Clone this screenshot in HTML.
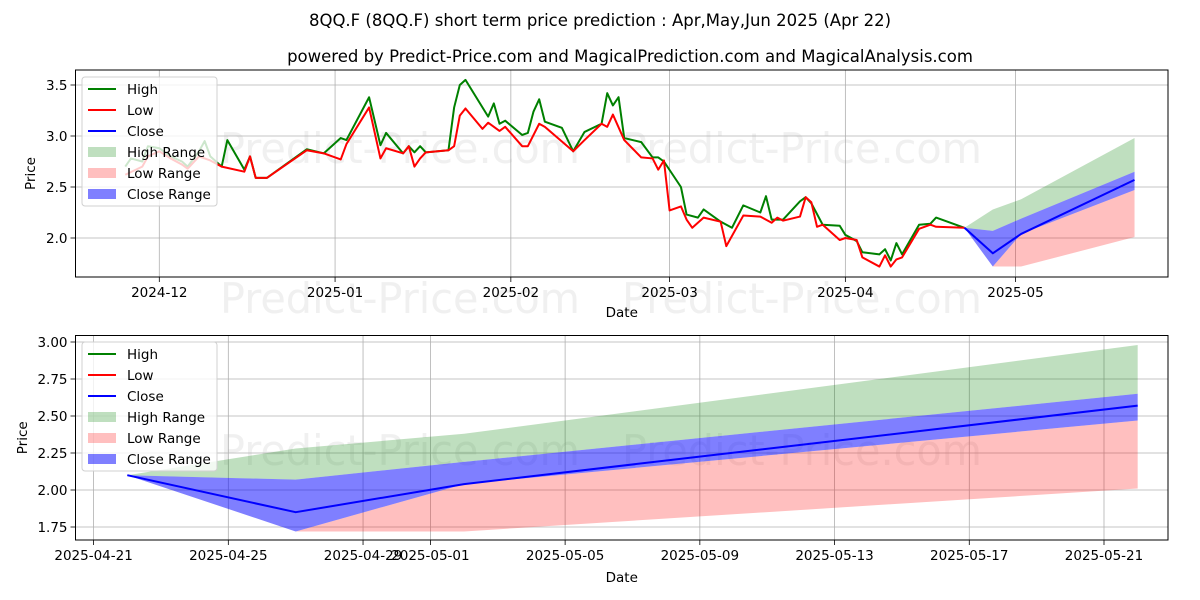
<!DOCTYPE html>
<html><head><meta charset="utf-8">
<style>
html,body{margin:0;padding:0;background:#fff;}
svg{display:block;font-family:"DejaVu Sans","Liberation Sans",sans-serif;}
</style></head>
<body>
<svg id="chart" width="1200" height="600" viewBox="0 0 1200 600" xmlns="http://www.w3.org/2000/svg">
<rect width="1200" height="600" fill="#fff"/>
<text x="600" y="26" text-anchor="middle" font-size="16.5">8QQ.F (8QQ.F) short term price prediction : Apr,May,Jun 2025 (Apr 22)</text>
<text x="630" y="62" text-anchor="middle" font-size="16.5">powered by Predict-Price.com and MagicalPrediction.com and MagicalAnalysis.com</text>
<g id="wm" fill="#e6e6e6" fill-opacity="0.6" font-size="42">
<text x="220" y="163" textLength="360" lengthAdjust="spacingAndGlyphs">Predict-Price.com</text>
<text x="622" y="163" textLength="360" lengthAdjust="spacingAndGlyphs">Predict-Price.com</text>
<text x="220" y="313" textLength="360" lengthAdjust="spacingAndGlyphs">Predict-Price.com</text>
<text x="622" y="313" textLength="360" lengthAdjust="spacingAndGlyphs">Predict-Price.com</text>
<text x="220" y="465" textLength="360" lengthAdjust="spacingAndGlyphs">Predict-Price.com</text>
<text x="622" y="465" textLength="360" lengthAdjust="spacingAndGlyphs">Predict-Price.com</text>
</g>
<g id="top"></g>
<g id="bottom"></g>
</svg>
<script>
// Day offsets from 2024-12-01
const highDays = [-6,-5,-3,-2,0,2,4,5,7,8,9,11,12,15,16,17,19,26,29,32,33,37,39,40,43,44,45,46,47,51,52,53,54,58,59,60,61,64,65,66,67,68,71,73,75,78,79,80,81,82,85,87,88,89,92,93,95,96,99,101,103,106,107,108,110,113,114,115,117,120,121,123,124,127,128,129,130,131,134,136,137,142];
const highVals = [2.70,2.78,2.75,2.90,2.88,2.80,2.75,2.70,2.85,2.95,2.80,2.70,2.96,2.67,2.80,2.59,2.59,2.87,2.83,2.98,2.96,3.38,2.91,3.03,2.83,2.90,2.84,2.90,2.84,2.86,3.28,3.50,3.55,3.19,3.32,3.12,3.15,3.01,3.03,3.24,3.36,3.14,3.08,2.85,3.04,3.12,3.42,3.30,3.38,2.98,2.94,2.79,2.79,2.75,2.50,2.23,2.20,2.28,2.16,2.10,2.32,2.25,2.41,2.18,2.18,2.36,2.40,2.34,2.13,2.12,2.03,1.97,1.86,1.84,1.89,1.78,1.95,1.84,2.13,2.14,2.20,2.10];
const lowDays = [-6,-3,-2,0,2,4,5,7,9,11,15,16,17,19,26,29,32,33,37,39,40,43,44,45,46,47,51,52,53,54,57,58,60,61,64,65,67,68,73,75,78,79,80,82,85,87,88,89,90,92,93,94,96,99,100,103,106,108,109,110,113,114,115,116,117,120,121,123,124,127,128,129,130,131,134,136,137,142];
const lowVals = [2.62,2.70,2.80,2.85,2.78,2.72,2.68,2.80,2.76,2.70,2.65,2.80,2.59,2.59,2.86,2.83,2.77,2.92,3.28,2.78,2.88,2.83,2.90,2.70,2.78,2.84,2.86,2.90,3.20,3.27,3.07,3.13,3.05,3.09,2.90,2.90,3.12,3.09,2.85,2.96,3.12,3.09,3.21,2.96,2.79,2.78,2.67,2.76,2.27,2.31,2.18,2.10,2.20,2.16,1.92,2.22,2.21,2.15,2.20,2.17,2.21,2.40,2.35,2.11,2.13,1.98,2.00,1.98,1.81,1.72,1.83,1.72,1.79,1.81,2.09,2.13,2.11,2.10];
// Forecast (Apr 22, Apr 27, May 2, May 22)
const fcDays = [142,147,152,172];
const fcClose = [2.10,1.85,2.04,2.57];
const fcCloseLo = [2.10,1.72,2.04,2.47];
const fcCloseHi = [2.10,2.07,2.19,2.65];
const fcHighLo = [2.10,2.07,2.19,2.65];
const fcHighHi = [2.10,2.28,2.38,2.98];
const fcLowDays = [147,152,172];
const fcLowLo = [1.72,1.72,2.01];
const fcLowHi = [1.72,2.04,2.47];
const topTicks = ["2024-12","2025-01","2025-02","2025-03","2025-04","2025-05"];
const topTickDays = [0,31,62,90,121,151];
const topYTicks = [2.0,2.5,3.0,3.5];
const botTicks = ["2025-04-21","2025-04-25","2025-04-29","2025-05-01","2025-05-05","2025-05-09","2025-05-13","2025-05-17","2025-05-21"];
const botTickDays = [141,145,149,151,155,159,163,167,171];
const botYTicks = [1.75,2.00,2.25,2.50,2.75,3.00];

const NS="http://www.w3.org/2000/svg";
function mk(parent,tag,attrs){const e=document.createElementNS(NS,tag);for(const k in attrs)e.setAttribute(k,attrs[k]);parent.appendChild(e);return e;}

function drawPanel(g,cfg){
  const {L,R,T,B,xf,yf,xTicks,xTickDays,yTicks,yFmt,showHist,ylabX,lgY,datey,name}=cfg;
  const cp=mk(g,'clipPath',{id:'clip'+name});
  mk(cp,'rect',{x:L,y:T,width:R-L,height:B-T});
  xTickDays.forEach((d,i)=>{const x=xf(d);
    const gl=mk(g,'line',{x1:x,x2:x,y1:T,y2:B,stroke:'#b0b0b0','stroke-width':0.8});
    
    mk(g,'line',{x1:x,x2:x,y1:B,y2:B+5,stroke:'#000','stroke-width':0.8});
    const t=mk(g,'text',{x:x,y:B+20,'text-anchor':'middle','font-size':13.5});t.textContent=xTicks[i];
    
  });
  yTicks.forEach(v=>{const y=yf(v);
    const gl=mk(g,'line',{x1:L,x2:R,y1:y,y2:y,stroke:'#b0b0b0','stroke-width':0.8});
    
    mk(g,'line',{x1:L-5,x2:L,y1:y,y2:y,stroke:'#000','stroke-width':0.8});
    const t=mk(g,'text',{x:L-8,y:y+5,'text-anchor':'end','font-size':13.5});t.textContent=yFmt(v);
    
  });
  const c=mk(g,'g',{'clip-path':'url(#clip'+name+')'});
  function band(days,lo,hi,fill,op,nm){
    let p=days.map((d,i)=>xf(d)+','+yf(hi[i]));
    for(let i=days.length-1;i>=0;i--)p.push(xf(days[i])+','+yf(lo[i]));
    const e=mk(c,'polygon',{points:p.join(' '),fill:fill,'fill-opacity':op});
    
  }
  function line(days,vals,col,nm){
    const e=mk(c,'polyline',{points:days.map((d,i)=>xf(d)+','+yf(vals[i])).join(' '),fill:'none',stroke:col,'stroke-width':2,'stroke-linejoin':'round'});
    
  }
  band(fcDays,fcHighLo,fcHighHi,'#008000',0.25,'high-range-band');
  band(fcLowDays,fcLowLo,fcLowHi,'#ff0000',0.25,'low-range-band');
  band(fcDays,fcCloseLo,fcCloseHi,'#0000ff',0.5,'close-range-band');
  if(showHist){line(highDays,highVals,'#008000','high-line');line(lowDays,lowVals,'#ff0000','low-line');}
  line(fcDays,fcClose,'#0000ff','close-line');
  const fr=mk(g,'rect',{x:L,y:T,width:R-L,height:B-T,fill:'none',stroke:'#000','stroke-width':1});
  
  const dl=mk(g,'text',{x:(L+R)/2,y:datey,'text-anchor':'middle','font-size':13.5});dl.textContent='Date';
  
  const yl=mk(g,'text',{x:0,y:0,'text-anchor':'middle','font-size':13.5,transform:'translate('+ylabX+','+((T+B)/2)+') rotate(-90)'});yl.textContent='Price';
  
  const lg=mk(g,'g',{});
  
  mk(lg,'rect',{x:82,y:lgY,width:135,height:129,rx:3,fill:'#fff','fill-opacity':0.8,stroke:'#d0d0d0'});
  const items=[['High','line','#008000',1],['Low','line','#ff0000',1],['Close','line','#0000ff',1],['High Range','box','#008000',0.25],['Low Range','box','#ff0000',0.25],['Close Range','box','#0000ff',0.5]];
  items.forEach((it,i)=>{const y=lgY+12+i*21;
    const ent=mk(lg,'g',{});
    
    if(it[1]==='line')mk(ent,'line',{x1:88,x2:116,y1:y,y2:y,stroke:it[2],'stroke-width':2});
    else mk(ent,'rect',{x:88,y:y-5,width:28,height:10,fill:it[2],'fill-opacity':it[3]});
    const t=mk(ent,'text',{x:127,y:y+5,'font-size':13.5});t.textContent=it[0];
  });
}
drawPanel(document.getElementById('top'),{name:'t',L:75.5,R:1168,T:70,B:277,
  xf:d=>159.3+d*5.67, yf:v=>238-(v-2)*102,
  xTicks:topTicks,xTickDays:topTickDays,yTicks:topYTicks,yFmt:v=>v.toFixed(1),
  showHist:true,ylabX:35,lgY:77,datey:317});
drawPanel(document.getElementById('bottom'),{name:'b',L:75.5,R:1168,T:335.5,B:540,
  xf:d=>93.6+(d-141)*33.68, yf:v=>490-(v-2)*148,
  xTicks:botTicks,xTickDays:botTickDays,yTicks:botYTicks,yFmt:v=>v.toFixed(2),
  showHist:false,ylabX:27,lgY:342,datey:582});
</script>
</body></html>
